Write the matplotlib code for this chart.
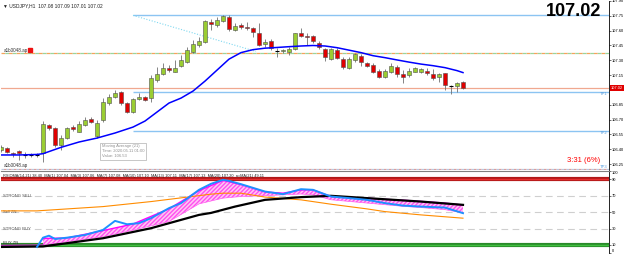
import numpy as np
import matplotlib.pyplot as plt
import matplotlib.transforms as mtransforms

plt.rcParams['font.family'] = ['Liberation Sans', 'DejaVu Sans']

# USDJPY H1 candles
opens = [106.393, 106.410, 106.363, 106.383, 106.343, 106.343, 106.343, 106.360, 106.646, 106.618,
         106.444, 106.511, 106.628, 106.578, 106.646, 106.703, 106.534, 106.696, 106.871, 106.925,
         106.976, 106.871, 106.780, 106.905, 106.925, 106.915, 107.100, 107.161, 107.218, 107.184,
         107.241, 107.285, 107.386, 107.454, 107.487, 107.689, 107.655, 107.696, 107.739, 107.605,
         107.655, 107.638, 107.622, 107.572, 107.464, 107.497, 107.393, 107.390, 107.386, 107.410,
         107.572, 107.547, 107.547, 107.477, 107.410, 107.309, 107.403, 107.312, 107.218, 107.302,
         107.342, 107.275, 107.252, 107.194, 107.127, 107.178, 107.234, 107.161, 107.151, 107.184,
         107.184, 107.194, 107.158, 107.127, 107.168, 107.039, 107.039, 107.08]
highs = [106.444, 106.423, 106.376, 106.393, 106.376, 106.363, 106.360, 106.689, 106.656, 106.628,
         106.544, 106.628, 106.646, 106.689, 106.723, 106.723, 106.696, 106.915, 106.959, 106.999,
         106.989, 106.881, 106.921, 106.966, 106.938, 107.151, 107.234, 107.269, 107.252, 107.302,
         107.353, 107.436, 107.504, 107.537, 107.706, 107.723, 107.739, 107.757, 107.757, 107.673,
         107.679, 107.689, 107.638, 107.673, 107.511, 107.511, 107.420, 107.413, 107.436, 107.578,
         107.622, 107.572, 107.555, 107.497, 107.420, 107.420, 107.420, 107.335, 107.329, 107.376,
         107.360, 107.285, 107.269, 107.208, 107.208, 107.269, 107.252, 107.201, 107.218, 107.234,
         107.218, 107.218, 107.208, 107.168, 107.174, 107.050, 107.083, 107.09]
lows = [106.373, 106.363, 106.325, 106.292, 106.309, 106.322, 106.325, 106.275, 106.595, 106.420,
        106.393, 106.504, 106.588, 106.578, 106.638, 106.669, 106.511, 106.679, 106.848, 106.915,
        106.848, 106.764, 106.770, 106.898, 106.891, 106.881, 107.083, 107.151, 107.184, 107.184,
        107.234, 107.269, 107.370, 107.436, 107.477, 107.605, 107.638, 107.689, 107.598, 107.598,
        107.612, 107.605, 107.537, 107.443, 107.436, 107.403, 107.335, 107.373, 107.353, 107.403,
        107.537, 107.454, 107.471, 107.410, 107.295, 107.302, 107.309, 107.208, 107.208, 107.285,
        107.241, 107.234, 107.168, 107.117, 107.117, 107.168, 107.133, 107.073, 107.133, 107.181,
        107.174, 107.151, 107.100, 107.083, 106.999, 106.959, 106.982, 107.01]
closes = [106.423, 106.376, 106.356, 106.363, 106.340, 106.346, 106.346, 106.653, 106.612, 106.444,
          106.511, 106.612, 106.602, 106.656, 106.696, 106.676, 106.663, 106.881, 106.925, 106.966,
          106.865, 106.774, 106.905, 106.931, 106.898, 107.117, 107.161, 107.218, 107.201, 107.218,
          107.302, 107.403, 107.464, 107.497, 107.699, 107.666, 107.706, 107.746, 107.612, 107.645,
          107.638, 107.628, 107.582, 107.454, 107.487, 107.420, 107.390, 107.400, 107.413, 107.572,
          107.551, 107.537, 107.497, 107.430, 107.329, 107.410, 107.319, 107.234, 107.312, 107.360,
          107.285, 107.244, 107.184, 107.127, 107.194, 107.241, 107.158, 107.133, 107.191, 107.221,
          107.208, 107.168, 107.117, 107.158, 107.047, 107.036, 107.067, 107.02]

# Moving Average (21)
ma_x = [0, 3, 6, 7, 10, 13, 16, 19, 22, 24, 26, 28, 30, 32, 34, 36, 38, 40, 42, 44, 46, 48, 50,
        52, 54, 56, 58, 60, 62, 64, 66, 68, 70, 72, 74, 76, 77]
ma_y = [106.343, 106.343, 106.348, 106.356, 106.420, 106.474, 106.514, 106.565, 106.625, 106.686,
        106.777, 106.868, 106.918, 106.989, 107.090, 107.201, 107.312, 107.378, 107.408, 107.423,
        107.430, 107.438, 107.445, 107.450, 107.445, 107.428, 107.403, 107.378, 107.347, 107.327,
        107.304, 107.282, 107.262, 107.246, 107.226, 107.196, 107.176]

# horizontal objects
tp_levels = [107.755, 106.976, 106.582]
entry_level = 107.37
bid = 107.02
price_ticks = [107.90, 107.75, 107.60, 107.45, 107.30, 107.15, 106.85, 106.70, 106.55, 106.40, 106.25]

# RSIOMA sub window
blue_x = [6, 7, 8, 9, 11, 14, 17, 19, 21, 23, 25, 28, 30, 33, 35, 37, 38, 40, 44, 47, 50, 52, 55,
          58, 61, 64, 67, 70, 74, 77]
blue_y = [7.6, 18.9, 21.3, 17.3, 18.9, 22.2, 28.3, 39.3, 35.2, 36.5, 42.6, 54.8, 60.9, 77.1, 84.4,
          89.3, 88.0, 84.0, 75.0, 71.8, 77.9, 77.1, 68.9, 67.0, 64.9, 60.9, 57.9, 56.7, 55.5, 48.7]
orange_x = [0, 6, 17, 25, 33, 35, 37, 40, 44, 50, 55, 61, 64, 70, 77]
orange_y = [51.5, 51.5, 56.7, 62.8, 70.0, 71.8, 73.0, 73.0, 68.3, 64.9, 59.6, 53.9, 50.6, 46.6, 42.6]
black_x = [0, 7, 17, 25, 33, 35, 39, 44, 50, 55, 61, 70, 77]
black_y = [7.6, 8.2, 18.2, 30.4, 46.6, 49.0, 56.7, 64.9, 68.2, 69.8, 67.0, 62.8, 58.8]
rib_x = [7, 11, 17, 22, 28, 33, 37, 40, 44, 47, 50, 52, 55, 58, 61, 64, 67, 70, 74, 77]
rib_lo = [10, 14, 20, 28, 38.5, 60, 67, 69, 70, 71, 72, 71, 65, 63, 61, 59, 57, 55.5, 53, 49]
rib_hi = [18, 18.5, 27.5, 35.5, 54, 76, 88.5, 83.5, 74.5, 73, 77, 77, 69, 68, 67, 65.5, 64.5, 63, 61, 58.5]
levels = [70, 50, 30]
level_names = ['STRONG SELL', 'Sell ZN', 'STRONG BUY']

fig = plt.figure(figsize=(6.25, 2.54), dpi=100)
ax = fig.add_axes([1 / 625, 1 - 170 / 254, 608 / 625, 169 / 254])
ax2 = fig.add_axes([1 / 625, 1 - 253.2 / 254, 608 / 625, 82.2 / 254])
xmax = 608 / 6

# ---- main chart ----
x = np.arange(len(opens))
for i in x:
    o, h, l, c = opens[i], highs[i], lows[i], closes[i]
    ax.vlines(i, l, h, color='#707070', lw=0.6, zorder=3)
    if abs(c - o) < 0.004:
        ax.hlines(c, i - 0.33, i + 0.33, color='black', lw=0.8, zorder=4)
    else:
        col = '#9acd32' if c > o else '#e00000'
        ax.bar(i, abs(c - o), 0.66, bottom=min(o, c), color=col, edgecolor='#505050', lw=0.4, zorder=4)

ax.plot(ma_x, ma_y, color='#0000ff', lw=1.1, zorder=5)

ax.hlines(tp_levels, 22, xmax, color='#8cc4f2', lw=1.0, zorder=2)
ax.axhline(entry_level, color='#f5a35c', lw=0.9, ls=(0, (3, 3)), zorder=2)
ax.axhline(entry_level, color='#9bd49b', lw=0.9, ls=(3, (3, 3)), zorder=2)
ax.axhline(bid, color='#f0a890', lw=0.9, zorder=2)
ax.axhline(106.201, color='#b8c8e0', lw=0.9, ls=(0, (2, 2)), zorder=2)
ax.axhline(106.201, color='#d8a0a0', lw=0.9, ls=(2, (2, 2)), zorder=2)
ax.plot([22, 42.5], [107.755, 107.39], color='#80d8f0', lw=0.8, ls=(0, (1, 1.5)), zorder=2)

ax.set_xlim(0, xmax)
ax.set_ylim(106.191, 107.898)
ax.yaxis.tick_right()
ax.set_yticks(price_ticks)
ax.set_yticklabels(['%.2f' % t for t in price_ticks])
ax.tick_params(axis='y', labelsize=2.9, length=1.5, width=0.4, pad=0.8)
ax.set_xticks([])
for s in ['top', 'left', 'bottom']:
    ax.spines[s].set_visible(False)
ax.spines['right'].set_linewidth(0.6)

trans = mtransforms.blended_transform_factory(ax.transAxes, ax.transData)
ax.text(1.003, bid, '107.02', transform=trans, fontsize=2.9, color='white', va='center', ha='left',
        bbox=dict(fc='#e00000', ec='none', pad=0.4), clip_on=False)
ax.text(0.004, 0.985, '\u25bc USDJPY,H1  107.08 107.09 107.01 107.02', transform=ax.transAxes,
        fontsize=3.5, va='top', color='#202020')
ax.text(0.988, 0.935, '107.02', transform=ax.transAxes, fontsize=13, fontweight='bold',
        ha='right', va='center', color='black')
ax.text(0.985, 0.055, '3:31 (6%)', transform=ax.transAxes, fontsize=5.5, ha='right', va='center',
        color='#ff0000')
ax.text(0.004, entry_level + 0.03, 'a1b0048.ap', fontsize=3.3, color='#303030', va='center',
        transform=trans)
ax.plot([4.8], [entry_level + 0.035], marker='s', ms=3.5, color='#ee1010', zorder=6)
ax.text(0.004, 106.235, 'a1b0048.ap', fontsize=3.3, color='#303030', va='center', transform=trans)
for lv, nm in zip(tp_levels[1:], ['TP1', 'TP2']):
    ax.text(0.997, lv - 0.02, nm, transform=trans, fontsize=3, color='#5aa0e0', ha='right', va='center')
ax.text(0.997, 106.22, 'TP3', transform=trans, fontsize=3, color='#5aa0e0', ha='right', va='center')
ax.text(16.8, 106.38, 'Moving Average (21)\nTime: 2020.05.11 01:00\nValue: 106.53', fontsize=3,
        color='#909090', va='center', linespacing=1.3,
        bbox=dict(fc='white', ec='#b0b0b0', lw=0.5, pad=1.2), zorder=8)

# ---- RSIOMA window ----
ax2.axhline(90, color='#b01818', lw=3.0, zorder=1)
ax2.axhline(90, color='#e83030', lw=1.0, zorder=1)
ax2.axhline(10, color='#2a8a2a', lw=3.0, zorder=1)
ax2.axhline(10, color='#40c040', lw=1.0, zorder=1)
trans2 = mtransforms.blended_transform_factory(ax2.transAxes, ax2.transData)
for lv, nm in zip(levels, level_names):
    ax2.axhline(lv, color='#cfcfcf', lw=0.8, ls=(0, (6, 4)), zorder=1)
    ax2.text(0.003, lv, nm, transform=trans2, fontsize=3, color='#505050', va='center')
ax2.text(0.003, 12, 'BUY ZN', transform=trans2, fontsize=3, color='#303030', va='center')

ax2.fill_between(rib_x, rib_lo, rib_hi, facecolor='#ffc8f4', edgecolor='#ff50f0', hatch='////////',
                 lw=0, zorder=2)
ax2.plot(rib_x, rib_hi, color='#ff00ff', lw=1.0, zorder=3)
ax2.plot(rib_x, rib_lo, color='#ff60f0', lw=0.5, zorder=3)
ax2.plot([0, 7], [9.5, 10], color='#c030c0', lw=1.0, zorder=3)
ax2.plot(orange_x, orange_y, color='#ff8c00', lw=0.8, zorder=3)
ax2.plot(black_x, black_y, color='black', lw=1.6, zorder=4)
ax2.plot(blue_x, blue_y, color='#1e90ff', lw=1.4, zorder=5)

ax2.set_xlim(0, xmax)
ax2.set_ylim(0, 100)
ax2.yaxis.tick_right()
ax2.set_yticks([100, 90, 70, 50, 30, 10, 0])
ax2.tick_params(axis='y', labelsize=2.9, length=1.5, width=0.4, pad=0.8)
ax2.get_yticklabels()[-1].set_va('bottom')
ax2.get_yticklabels()[0].set_va('top')
ax2.set_xticks([])
for s in ['left', 'bottom']:
    ax2.spines[s].set_visible(False)
ax2.spines['top'].set_color('#808080')
ax2.spines['top'].set_linewidth(0.8)
ax2.spines['right'].set_linewidth(0.6)
ax2.text(0.004, 0.965, 'RSIOMA(14,21) 38.40  MA(1) 107.04  MA(3) 107.06  MA(7) 107.08  MA(10) 107.10  '
         'MA(13) 107.11  MA(17) 107.13  MA(20) 107.20  a=MA(21) 49.11', transform=ax2.transAxes,
         fontsize=2.8, va='top', color='#202020')

fig.savefig('out.png', dpi=100)
